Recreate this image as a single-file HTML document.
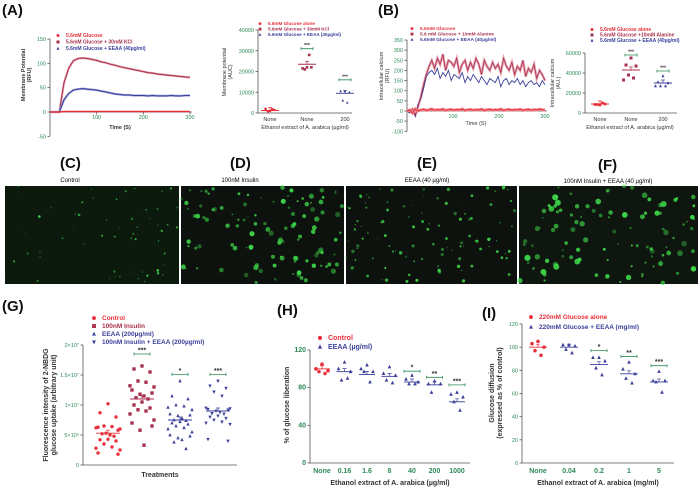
<!DOCTYPE html>
<html><head><meta charset="utf-8"><style>
body{margin:0;background:#fff}
svg{display:block;font-family:"Liberation Sans",sans-serif}
.t{font-weight:bold;font-size:15px;fill:#111}
.tk{font-size:5.5px;fill:#2e8b57}
.tkb{font-size:7px;fill:#2e8b57;font-weight:bold}
.ax{stroke:#555;stroke-width:0.8;fill:none}
.lab{font-size:5.5px;fill:#333}
.labb{font-size:7px;fill:#333;font-weight:bold}
</style></head><body>
<svg id="fig" width="699" height="488" viewBox="0 0 699 488">
<text class="t" x="2" y="15">(A)</text>
<text class="t" x="378" y="15">(B)</text>
<text class="t" x="2" y="311">(G)</text>
<text class="t" x="277" y="315">(H)</text>
<text class="t" x="482" y="318">(I)</text>
<g id="micro">
<text class="t" x="60" y="168">(C)</text>
<text class="t" x="230" y="168">(D)</text>
<text class="t" x="417" y="168">(E)</text>
<text class="t" x="598" y="170">(F)</text>
<text x="70" y="182" font-size="6" text-anchor="middle">Control</text>
<text x="240" y="182" font-size="6" text-anchor="middle">100nM Insulin</text>
<text x="427" y="182" font-size="6" text-anchor="middle">EEAA (40 µg/ml)</text>
<text x="608" y="183" font-size="6" text-anchor="middle">100nM Insulin + EEAA (40 µg/ml)</text>
</g>
</svg>
<script>
// ---- data: panel A time course ----
const aTime=[0,10,20,30,40,50,60,70,80,90,100,110,120,130,140,150,160,170,180,190,200,210,220,230,240,250,260,270,280,290,300];
const aKCl=[0,0,0,60,90,105,110,111,110,108,106,103,101,98,96,93,91,89,87,85,83,81,80,78,77,76,75,74,73,72,71];
const aEEAA=[0,0,0,25,38,45,47,48,47,46,45,43,41,39,37,36,35,35,34,34,34,33,34,33,33,33,34,33,33,34,34];
const aGlu=[0,0,0,1,1,1,1,1,1,1,1,1,1,1,1,1,1,1,1,1,1,1,1,1,1,1,1,1,1,1,1];
const aTicksY=[-50,0,50,100,150];
const aTicksX=[100,200,300];
// panel A AUC scatter
const aCats=["None","None","200"];
const aAUC=[[1000,2000,1500,800,1800],[22000,21500,22000,21000,28000],[10500,10500,10000,6000,5000]];
const aAUCMean=[1200,23500,9500];
const aAUCTicks=[0,10000,20000,30000,40000];
// ---- panel B ----
const bTime=[0,6,12,18,24,30,36,42,48,54,60,66,72,78,84,90,96,102,108,114,120,126,132,138,144,150,156,162,168,174,180,186,192,198,204,210,216,222,228,234,240,246,252,258,264,270,276,282,288,294,300];
const bAla=[0,-5,10,-20,20,70,130,180,220,250,210,260,230,280,200,250,240,220,260,190,230,250,200,240,210,260,230,180,250,220,200,240,210,230,190,260,220,200,240,180,220,200,250,170,210,190,230,160,200,180,150];
const bEEAA=[0,-10,5,-25,30,60,110,170,190,200,180,210,160,190,170,200,150,180,170,160,190,140,170,150,180,160,140,170,150,130,160,150,140,170,120,150,160,130,150,140,160,130,150,120,140,150,130,140,120,150,130];
const bGlu=[0,5,-10,10,0,5,8,3,6,10,4,7,5,9,3,6,8,4,7,5,10,3,6,8,4,7,5,9,3,6,8,4,7,5,10,3,6,8,4,7,5,9,3,6,8,4,7,5,9,6,5];
const bTicksY=[-100,-50,0,50,100,150,200,250,300,350];
const bTicksX=[100,200,300];
const bCats=["None","None","200"];
const bAUC=[[8000,8500,9000,8500,10000],[55000,48000,47000,38000,35000,33000],[37000,31000,30000,27000,27000,27000]];
const bAUCMean=[9000,43000,30000];
const bAUCTicks=[0,20000,40000,60000];
// ---- panel G ----
const gVals=[[10.2,8.7,8,6.5,6.4,6.2,6.0,6.3,5.8,5.3,5.0,5.2,4.8,4.3,4.2,4.0,3.5,3.0,2.8,2.5,2.0,1.8],
[16.5,16,15.5,14,13.8,13.2,13,12.5,12,11.8,11.5,11.2,11,10.5,10,9.5,9.2,9,8.5,7.5,7,6.5,5.8,3.3],
[14,11.5,11,10,9.8,9.6,9.2,8.5,8.3,8.2,7.8,7.5,7.4,7.2,7,6.8,6.5,6.2,6,5.5,5,4.8,4.5,4.2,3.8,2.7],
[14,13.2,12.8,12.2,11.5,9.5,9.4,9.3,9.2,9,8.8,8.6,8.5,8.2,8,7.8,7.5,7.2,7,6.8,4.3,4.0]];
const gMeans=[5.3,11,7.5,9];
const gTicks=[0,5,10,15,20];
const gTickLabels=["0","5×10⁶","1×10⁷","1.5×10⁷","2×10⁷"];
// ---- panel H ----
const hCats=["None","0.16","1.6","8","40","200","1000"];
const hVals=[[105,100,98,97,95],[107,100,97,88,90],[104,100,97,97,86],[102,95,93,88,85],[93,89,86,84,84],[87,84,84,75],[75,73,70,65,56]];
const hMeans=[100,97,94,92,86,83,65];
const hTicks=[0,40,80,120];
// ---- panel I ----
const iCats=["None","0.04","0.2","1","5"];
const iVals=[[105,103,100,97,93],[102,102,101,98,95],[91,91,88,82,76],[87,81,77,73,69],[79,71,71,70,61]];
const iMeans=[100,100,85,77,70];
const iTicks=[0,20,40,60,80,100,120];

const NS="http://www.w3.org/2000/svg";
const svg=document.getElementById('fig');
const RED="#e8303a",MAR="#a8324e",BLU="#3a3f9a",GRN="#2e8b57";
const JIT=[0,-2,2,-1,1,-3,3,-2.5,2.5,-0.5,0.5,-1.5,1.5];
function mk(t,a,p){const e=document.createElementNS(NS,t);for(const k in a)e.setAttribute(k,a[k]);(p||svg).appendChild(e);return e;}
function lin(d0,d1,r0,r1){return v=>r0+(v-d0)*(r1-r0)/(d1-d0);}
function txt(x,y,s,cls,anchor,rot,fill){const e=mk('text',{x:x,y:y,class:cls,'text-anchor':anchor||'middle'});if(rot)e.setAttribute('transform','rotate(-90 '+x+' '+y+')');if(fill)e.setAttribute('fill',fill);e.textContent=s;
return e;}
function yAxis(x,sy,ticks,labels,cls,lo,hi){const l=mk('line',{x1:x,x2:x,y1:sy(lo),y2:sy(hi),class:'ax'});


ticks.forEach((v,i)=>{const t=mk('line',{x1:x-2.5,x2:x,y1:sy(v),y2:sy(v),class:'ax'});


const e=txt(x-4,sy(v)+2,labels?labels[i]:String(v),cls,'end');});}
function xAxis(y,x0,x1){const l=mk('line',{x1:x0,x2:x1,y1:y,y2:y,class:'ax'});

}
function marker(x,y,shape,col,s){let e;
if(shape==='c')e=mk('circle',{cx:x,cy:y,r:s});
else if(shape==='s')e=mk('rect',{x:x-s,y:y-s,width:2*s,height:2*s});
else if(shape==='u')e=mk('polygon',{points:`${x},${y-s*1.2} ${x-s},${y+s*0.8} ${x+s},${y+s*0.8}`});
else e=mk('polygon',{points:`${x},${y+s*1.2} ${x-s},${y-s*0.8} ${x+s},${y-s*0.8}`});
e.setAttribute('fill',col);

return e;}
function scatter(xc,vals,sy,shape,col,s,spread){vals.forEach((v,i)=>{const off=JIT[i%JIT.length]*spread;marker(xc+off,sy(v),shape,col,s);});}
function meanLine(xc,m,sy,col,w){const e=mk('line',{x1:xc-w,x2:xc+w,y1:sy(m),y2:sy(m),stroke:col,'stroke-width':0.9});


const eb=mk('path',{d:`M${xc},${sy(m)}v-3m-2,0h4`,stroke:col,'stroke-width':0.7,fill:'none'});

}
function sig(xc,y,w,stars,fs){const e=mk('path',{d:`M${xc-w},${y-1.5}v3m0,-1.5h${2*w}m0,-1.5v3`,stroke:GRN,'stroke-width':0.8,fill:'none'});


const t=txt(xc,y-1.5,stars,'','middle');t.setAttribute('font-size',fs);t.setAttribute('font-weight','bold');t.setAttribute('fill','#333');}
function line(xs,ys,sx,sy,col,w,name){const p=xs.map((t,i)=>sx(t).toFixed(1)+','+sy(ys[i]).toFixed(1)).join(' ');
const e=mk('polyline',{points:p,fill:'none',stroke:col,'stroke-width':w});

return e;}
function legend(x,y,items,fs,gap){items.forEach((it,i)=>{marker(x,y+i*gap-fs*0.3,it[1],it[2],fs*0.3);const t=txt(x+8,y+i*gap,it[0],'','start');t.setAttribute('font-size',fs);t.setAttribute('fill',it[2]);t.setAttribute('font-weight','bold');});}

// ===== Panel A left =====
{const sx=lin(0,300,50,190),sy=lin(0,150,112,39);
yAxis(50,sy,aTicksY,null,'tk',-50,150);xAxis(112,50,192);
aTicksX.forEach(v=>{const t=mk('line',{x1:sx(v),x2:sx(v),y1:112,y2:114.5,class:'ax'});


const e=txt(sx(v),119,String(v),'tk');});
line(aTime,aKCl,sx,sy,'#e7a0b0',2.2,'kcl-error');line(aTime,aKCl,sx,sy,MAR,1,'kcl-line');
line(aTime,aEEAA,sx,sy,'#a0a4d8',2.2,'eeaa-error');line(aTime,aEEAA,sx,sy,BLU,1,'eeaa-line');
line(aTime,aGlu,sx,sy,RED,1.5,'glucose-line');
txt(120,129,'Time (S)','lab').setAttribute('font-weight','bold');
txt(25,75,'Membrane Potential','lab','middle',true).setAttribute('font-weight','bold');
txt(31,75,'(RFU)','lab','middle',true).setAttribute('font-weight','bold');
legend(58,37,[['5.6mM Glucose','c',RED],['5.6mM Glucose + 30mM KCl','s',MAR],['5.6mM Glucose + EEAA (40µg/ml)','u',BLU]],5,6.5);}
// ===== Panel A right =====
{const xs=[270,307,345],sy=lin(0,40000,113,30);
yAxis(258,sy,aAUCTicks,null,'tk',0,40000);xAxis(113,258,352);
const sh=['c','s','u'],col=[RED,MAR,BLU];
aCats.forEach((c,i)=>{const e=txt(xs[i],121,c,'lab');scatter(xs[i],aAUC[i],sy,sh[i],col[i],1.3,2.2);meanLine(xs[i],aAUCMean[i],sy,col[i],9);});
sig(307,sy(31000),6,'***',5);sig(345,sy(16000),6,'***',5);
txt(305,129,'Ethanol extract of A. arabica (µg/ml)','lab');
txt(226,72,'Membrane potential','lab','middle',true);txt(232,72,'(AUC)','lab','middle',true);
legend(260,25,[['5.6mM Glucose alone','c',RED],['5.6mM Glucose + 30mM KCl','s',MAR],['5.6mM Glucose + EEAA (40µg/ml)','u',BLU]],4.6,5.5);}
// ===== Panel B left =====
{const sx=lin(0,300,407,545),sy=lin(0,350,111,40);
yAxis(407,sy,bTicksY,null,'tk',-100,350);xAxis(111,407,547);
bTicksX.forEach(v=>{const e=txt(sx(v),118,String(v),'tk');});
line(bTime,bAla,sx,sy,'#e7a0b0',2.5,'alanine-error');
line(bTime,bEEAA,sx,sy,BLU,0.9,'eeaa-line');
line(bTime,bAla,sx,sy,MAR,0.8,'alanine-line');
line(bTime,bGlu,sx,sy,'#f08a92',3,'glucose-error');
line(bTime,bGlu,sx,sy,RED,1,'glucose-line');
txt(476,125,'Time (S)','lab');
txt(383,76,'Intracellular calcium','lab','middle',true);txt(389,76,'(RFU)','lab','middle',true);
legend(412,30,[['5.6mM Glucose','c',RED],['5.6 mM Glucose + 10mM Alanine','s',MAR],['5.6mM Glucose + EEAA (40µg/ml)','u',BLU]],4.8,5.5);}
// ===== Panel B right =====
{const xs=[600,631,663],sy=lin(0,60000,113,53);
yAxis(585,sy,bAUCTicks,null,'tk',0,60000);xAxis(113,585,677);
const sh=['c','s','u'],col=[RED,MAR,BLU];
bCats.forEach((c,i)=>{const e=txt(xs[i],121,c,'lab');scatter(xs[i],bAUC[i],sy,sh[i],col[i],1.5,2.5);meanLine(xs[i],bAUCMean[i],sy,col[i],9);});
sig(631,sy(58000),6,'***',5);sig(663,sy(42000),6,'***',5);
txt(630,129,'Ethanol extract of A. arabica (µg/ml)','lab');
txt(554,83,'Intracellular calcium','lab','middle',true);txt(560,83,'(AU.)','lab','middle',true);
legend(592,31,[['5.6mM Glucose alone','c',RED],['5.6mM Glucose +10mM Alanine','s',MAR],['5.6mM Glucose + EEAA (40µg/ml)','u',BLU]],5,5.5);}
// ===== Microscopy =====
{const g=document.getElementById('micro');
const panels=[[5,180,'#0c1a0d',0.6],[181,345,'#0e120e',1.2],[346,518,'#0e120e',0.8],[519,699,'#0f150f',1.4]];
let seed=7;function rnd(){seed=(seed*16807)%2147483647;return seed/2147483647;}
panels.forEach((p,k)=>{const r=mk('rect',{x:p[0],y:186,width:p[1]-p[0]-1,height:98,fill:p[2]},g);


const n=k===0?60:110;
for(let i=0;i<n;i++){const c=mk('circle',{cx:p[0]+rnd()*(p[1]-p[0]-2),cy:186+rnd()*98,r:(0.6+rnd()*1.6)*p[3],fill:'#3fdc4a',opacity:0.35+rnd()*0.6},g);

}});}
// ===== Panel G =====
{const xs=[108,142,180,218],sy=lin(0,20,465,345);
yAxis(83,sy,gTicks,gTickLabels,'tk',0,20);xAxis(465,83,237);
const sh=['c','s','u','d'],col=[RED,MAR,BLU,BLU];
gVals.forEach((v,i)=>{scatter(xs[i],v,sy,sh[i],col[i],1.7,4);meanLine(xs[i],gMeans[i],sy,col[i],12);});
sig(142,sy(18.5),8,'***',7);sig(180,sy(15.1),8,'*',7);sig(218,sy(15.1),8,'***',7);
txt(160,477,'Treatments','labb');
txt(48,405,'Fluorescence intensity of 2-NBDG','labb','middle',true);txt(56,405,'glucose uptake (arbitrary unit)','labb','middle',true);
legend(94,320,[['Control','c',RED],['100nM Insulin','s',MAR],['EEAA (200µg/ml)','u',BLU],['100nM Insulin + EEAA (200µg/ml)','d',BLU]],6.5,8);}
// ===== Panel H =====
{const xs=hCats.map((c,i)=>322+i*22.5),sy=lin(0,120,463,350);
yAxis(310,sy,hTicks,null,'tkb',0,120);xAxis(463,310,470);
hCats.forEach((c,i)=>{const e=txt(xs[i],473,c,'tkb');
scatter(xs[i],hVals[i],sy,i?'u':'c',i?BLU:RED,1.8,3);meanLine(xs[i],hMeans[i],sy,i?BLU:RED,8);});
sig(xs[4],sy(97.5),8,'*',7);sig(xs[5],sy(91),8,'**',7);sig(xs[6],sy(83),8,'***',7);
txt(390,485,'Ethanol extract of A. arabica (µg/ml)','labb');
txt(289,405,'% of glucose liberation','labb','middle',true);
legend(320,340,[['Control','c',RED],['EEAA (µg/ml)','u',BLU]],7,9);}
// ===== Panel I =====
{const xs=[538,569,599,629,659],sy=lin(0,120,463,324);
yAxis(522,sy,iTicks,null,'tk',0,120);xAxis(463,522,674);
iCats.forEach((c,i)=>{const e=txt(xs[i],473,c,'tkb');
scatter(xs[i],iVals[i],sy,i?'u':'c',i?BLU:RED,1.8,3);meanLine(xs[i],iMeans[i],sy,i?BLU:RED,9);});
sig(599,sy(97),8,'*',7);sig(629,sy(92),8,'**',7);sig(659,sy(84),8,'***',7);
txt(598,485,'Ethanol extract of A. arabica (mg/ml)','labb');
txt(494,393,'Glucose diffusion','labb','middle',true);txt(502,393,'(expressed as % of control)','labb','middle',true);
legend(531,319,[['220mM Glucose alone','c',RED],['220mM Glucose + EEAA (mg/ml)','u',BLU]],6.5,10);}
</script>
</body></html>
